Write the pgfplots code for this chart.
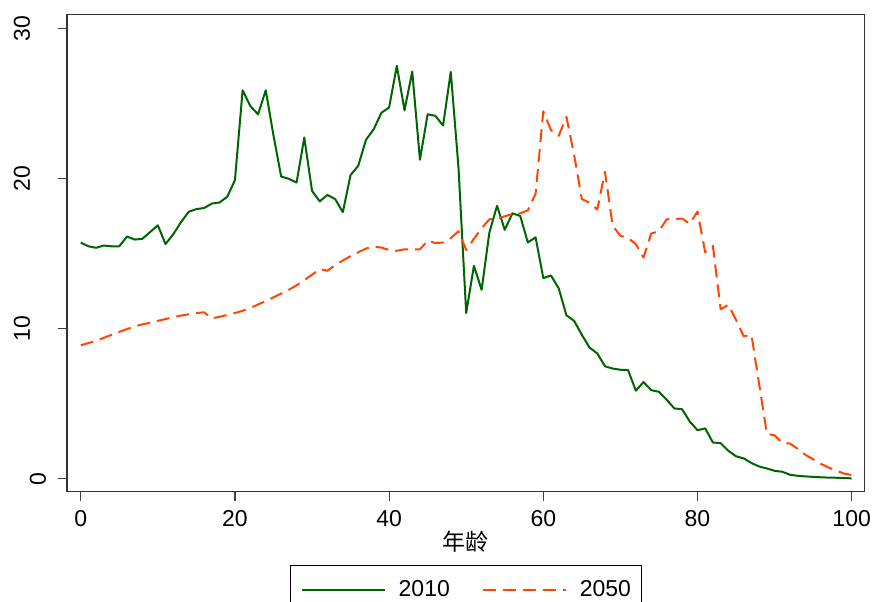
\documentclass[border=0pt]{standalone}
\usepackage{pgfplots}
\pgfplotsset{compat=1.18}
\usepackage{pgfplotstable}
\usepackage{fontspec}
\setmainfont{Liberation Sans}
\newfontfamily\cjk{Noto Sans CJK SC}
\definecolor{dkgreen}{RGB}{0,100,0}
\definecolor{orred}{RGB}{255,69,0}

\pgfplotstableread{
age y2010 y2050
0 15.75 8.9
1 15.5 9.05
2 15.4 9.2
3 15.55 9.4
4 15.5 9.6
5 15.5 9.8
6 16.15 9.98
7 15.95 10.15
8 16.0 10.3
9 16.45 10.4
10 16.9 10.53
11 15.65 10.65
12 16.3 10.78
13 17.1 10.88
14 17.8 10.97
15 17.98 11.05
16 18.05 11.1
17 18.35 10.7
18 18.42 10.8
19 18.8 10.92
20 19.9 11.05
21 25.9 11.2
22 24.85 11.4
23 24.3 11.62
24 25.9 11.85
25 22.9 12.1
26 20.15 12.35
27 20.0 12.6
28 19.75 12.9
29 22.75 13.25
30 19.2 13.6
31 18.5 13.98
32 18.92 13.87
33 18.65 14.25
34 17.78 14.55
35 20.25 14.85
36 20.87 15.1
37 22.6 15.35
38 23.3 15.47
39 24.4 15.42
40 24.75 15.25
41 27.53 15.2
42 24.57 15.3
43 27.15 15.3
44 21.27 15.3
45 24.3 15.87
46 24.2 15.72
47 23.55 15.75
48 27.13 16.05
49 20.75 16.5
50 11.05 15.25
51 14.2 16.0
52 12.6 16.7
53 16.4 17.3
54 18.2 17.35
55 16.6 17.5
56 17.7 17.65
57 17.53 17.7
58 15.75 17.9
59 16.1 19.0
60 13.38 24.5
61 13.55 23.25
62 12.7 22.87
63 10.9 24.13
64 10.53 21.6
65 9.6 18.65
66 8.75 18.4
67 8.36 17.95
68 7.5 20.47
69 7.35 16.87
70 7.27 16.2
71 7.25 16.05
72 5.87 15.65
73 6.45 14.75
74 5.91 16.35
75 5.8 16.5
76 5.27 17.3
77 4.69 17.32
78 4.64 17.35
79 3.82 17.0
80 3.24 17.82
81 3.36 15.1
82 2.42 15.53
83 2.38 11.3
84 1.87 11.6
85 1.5 10.6
86 1.36 9.5
87 1.05 9.6
88 0.82 6.3
89 0.69 3.0
90 0.53 2.9
91 0.47 2.4
92 0.27 2.35
93 0.2 2.0
94 0.16 1.6
95 0.13 1.3
96 0.1 1.0
97 0.08 0.75
98 0.07 0.55
99 0.05 0.35
100 0.03 0.25
}\datatable

\begin{document}
\fontsize{11.5}{13}\selectfont
\begin{tikzpicture}
\begin{axis}[
  at={(0,0)}, anchor=south west,
  scale only axis, width=398.85pt, height=238.5pt,
  xmin=-1.78, xmax=101.69, ymin=-0.86, ymax=30.94,
  axis line style={black!80, line width=0.6pt},
  xtick={0,20,40,60,80,100}, ytick={0,10,20,30},
  yticklabels={\raisebox{-8pt}{0},10,20,30},
  xtick pos=lower, ytick pos=left,
  tick align=outside, major tick length=4.5pt,
  tick style={black!75, line width=0.6pt},
  minor tick num=0,
  /pgf/number format/assume math mode=true,
  ticklabel style={font=\fontsize{11.5}{13}\selectfont},
  yticklabel style={xshift=-14pt, rotate=90, anchor=base, inner sep=0pt},
  xticklabel style={yshift=-12.65pt, anchor=base, inner sep=0pt},
  xlabel={\cjk 年龄},
  xlabel style={at={(axis description cs:0.5,0)}, anchor=base, yshift=-29.4pt, inner sep=0pt, font=\fontsize{11.5}{13}\selectfont},
  legend columns=2,
  legend style={at={(0.5,-0.1537)}, anchor=north, draw=black, line width=0.5pt,
    inner xsep=5pt, inner ysep=7.5pt,
    nodes={inner sep=0pt},
    font=\fontsize{11.5}{13}\selectfont,
    /tikz/every odd column/.append style={column sep=6.5pt},
    /tikz/every even column/.append style={column sep=16pt}},
  legend image code/.code={\draw[#1] (0pt,0pt) -- (41.5pt,0pt);},
]
\addplot[dkgreen, line width=1pt, line join=round] table[x=age, y=y2010] {\datatable};
\addlegendentry{2010}
\addplot[orred, line width=1pt, line join=round, dash pattern=on 6.5pt off 3.5pt] table[x=age, y=y2050] {\datatable};
\addlegendentry{2050}
\end{axis}
\pgfresetboundingbox
\useasboundingbox (-33.5pt,-54.65pt) rectangle (403pt,245.85pt);
\end{tikzpicture}
\end{document}
